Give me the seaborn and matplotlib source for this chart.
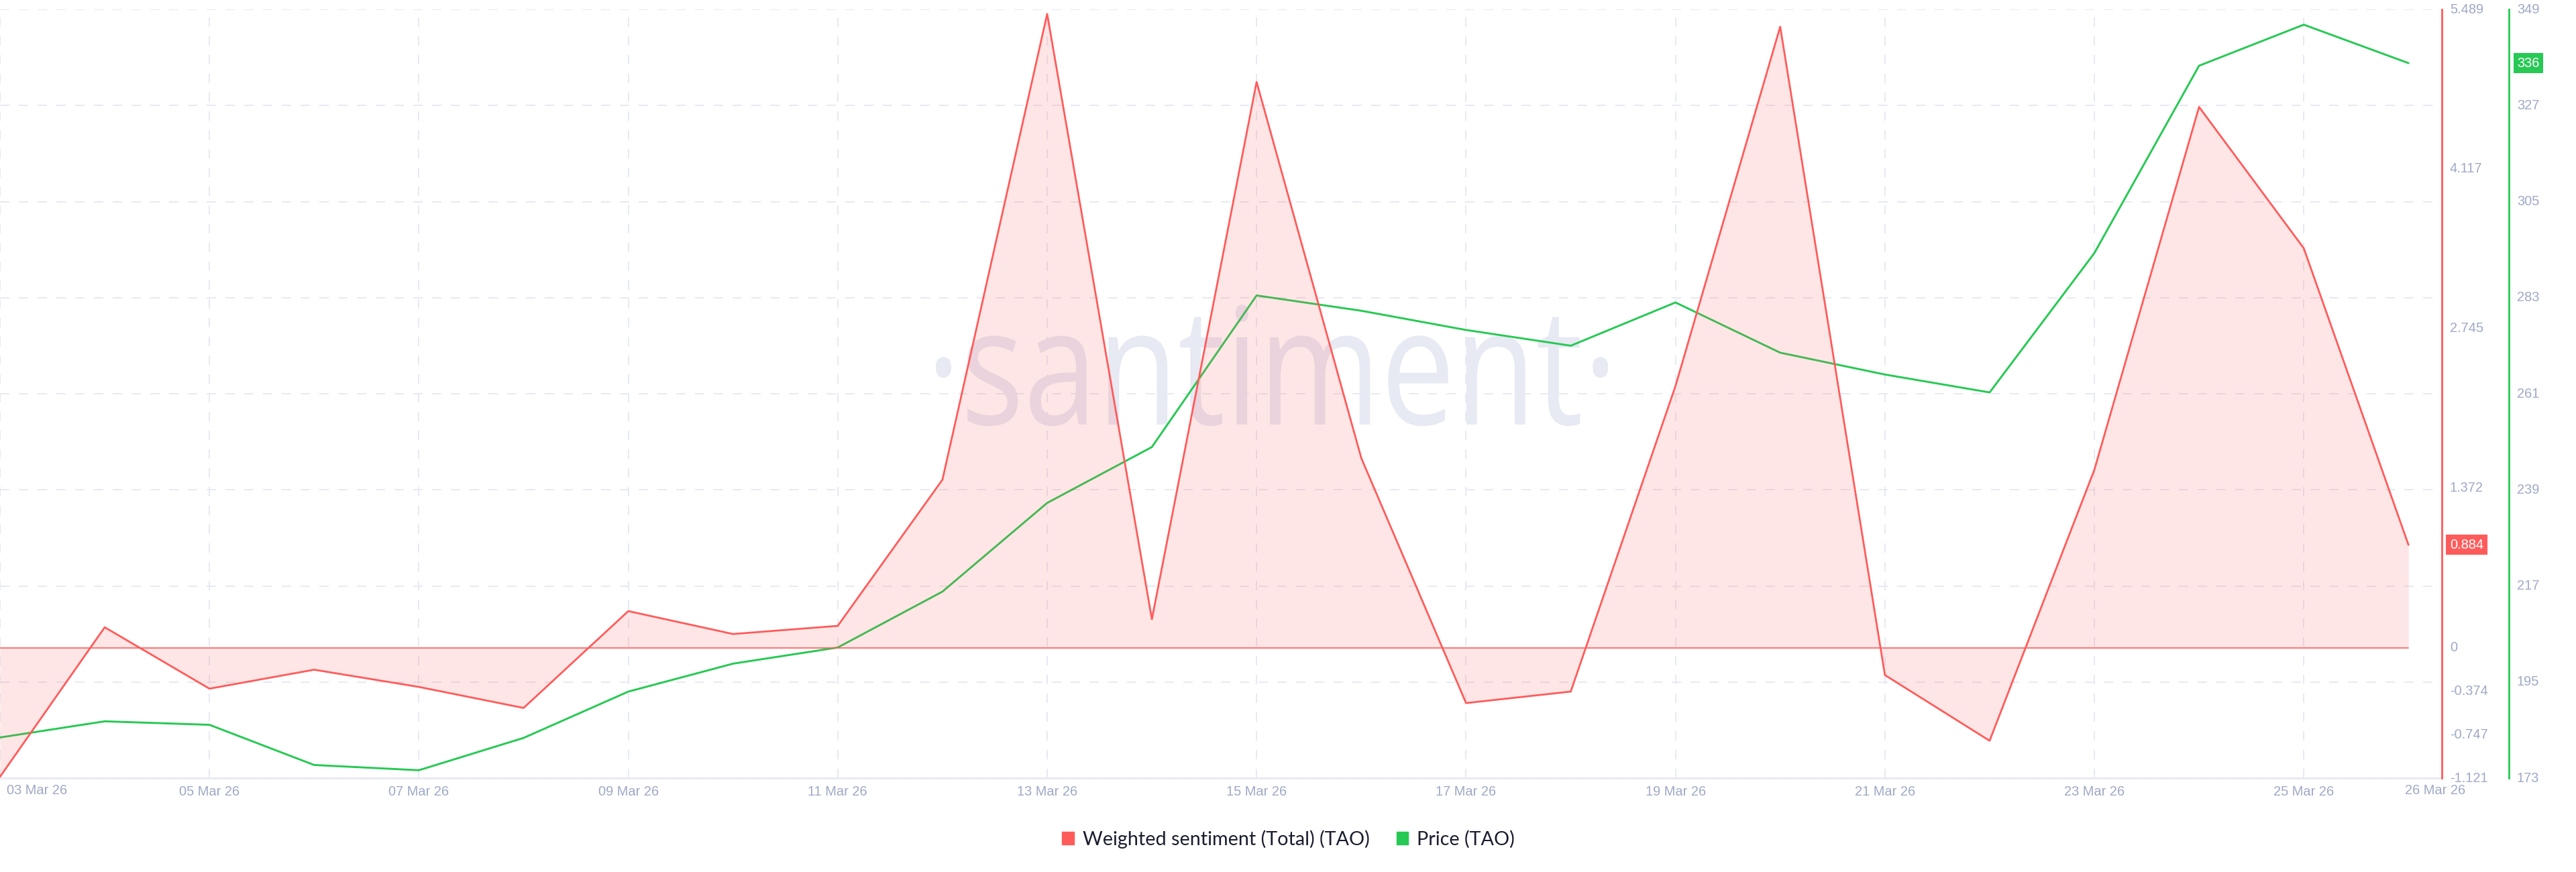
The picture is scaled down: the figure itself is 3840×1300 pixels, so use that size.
import matplotlib
matplotlib.use("Agg")
import matplotlib.dates as mdates
import matplotlib.pyplot as plt
from matplotlib.patches import Patch
from matplotlib.patheffects import AbstractPathEffect
from matplotlib.transforms import Affine2D, ScaledTranslation
import pandas as pd
import seaborn as sns

# values
dates = pd.date_range("2026-03-03", "2026-03-26", freq="D")
sentiment = [-1.11, 0.176, -0.352, -0.189, -0.337, -0.518, 0.315, 0.118, 0.188, 1.445, 5.45, 0.245,
             4.865, 1.63, -0.476, -0.377, 2.25, 5.34, -0.235, -0.80, 1.53, 4.65, 3.435, 0.884]
price = [182.3, 186.0, 185.2, 176.0, 174.8, 182.2, 192.8, 199.2, 202.9, 215.7, 236.0, 248.8,
         283.5, 280.0, 275.6, 272.0, 281.9, 270.4, 265.4, 261.3, 293.2, 336.1, 345.5, 336.7]
sentiment_ticks = [5.489, 4.117, 2.745, 1.372, 0, -0.374, -0.747, -1.121]
sentiment_labels = ["5.489", "4.117", "2.745", "1.372", "0", "-0.374", "-0.747", "-1.121"]
price_ticks = [349, 327, 305, 283, 261, 239, 217, 195, 173]
grid_dates = pd.date_range("2026-03-03", "2026-03-25", freq="2D")

RED = "#ff5b5b"
GREEN = "#26c953"
GRID = "#e7e9f3"
MUTED = "#9fa9c6"
W, H = 3840, 1300


class SqueezeX(AbstractPathEffect):
    # no narrow font installed, so squeeze the watermark text around its centre
    def __init__(self, center, factor):
        super().__init__()
        self.center = center
        self.factor = factor

    def draw_path(self, renderer, gc, tpath, affine, rgbFace=None):
        squeeze = Affine2D().translate(-self.center, 0).scale(self.factor, 1).translate(self.center, 0)
        renderer.draw_path(gc, tpath, affine + squeeze, rgbFace)


df = pd.DataFrame({"date": dates, "sentiment": sentiment, "price": price})

sns.set_theme(style="white")
plt.rcParams["font.family"] = ["Liberation Sans", "DejaVu Sans"]

fig = plt.figure(figsize=(W / 100, H / 100), dpi=100, facecolor="white")
ax = fig.add_axes([0, 1 - 1160 / H, 3640 / W, 1146 / H])
ax_s = ax.twinx()

# watermark sits under everything
ax.text(0.5209, 0.46, "·santiment·", transform=ax.transAxes, ha="center", va="baseline",
        family="Open Sans", fontsize=175, color="#e7e9f3", zorder=0,
        path_effects=[SqueezeX(1896, 0.81)])

sns.lineplot(data=df, x="date", y="price", ax=ax, color=GREEN, linewidth=2.1, zorder=3)
sns.lineplot(data=df, x="date", y="sentiment", ax=ax_s, color=RED, linewidth=2.0, zorder=3)
ax_s.fill_between(df["date"], df["sentiment"], 0, color=RED, alpha=0.15, linewidth=0, zorder=2)
ax_s.plot([dates[0], dates[-1]], [0, 0], color=RED, linewidth=1.2, zorder=2)

ax.set_xlim(dates[0], dates[0] + pd.Timedelta(days=3640 / 156.1))
ax.set_ylim(173, 349)
ax_s.set_ylim(-1.121, 5.489)

for a in (ax, ax_s):
    for side in ("left", "top", "bottom", "right"):
        a.spines[side].set_visible(False)
ax.spines["bottom"].set_visible(True)
ax.spines["bottom"].set_color(GRID)
ax.spines["bottom"].set_linewidth(2)
ax.spines["right"].set_visible(True)
ax.spines["right"].set_color(GREEN)
ax.spines["right"].set_linewidth(2.0)
ax.spines["right"].set_position(("outward", 72))
ax_s.spines["right"].set_visible(True)
ax_s.spines["right"].set_color(RED)
ax_s.spines["right"].set_linewidth(2.0)

dash = (0, (7, 7))
ax.set_xticks(grid_dates)
ax.set_xticklabels(["" if d == grid_dates[0] else d.strftime("%d %b %y") for d in grid_dates])
ax.set_yticks(price_ticks)
ax.grid(True, color=GRID, linewidth=1.44, linestyle=dash)
ax.set_axisbelow(True)
ax.yaxis.tick_right()
ax_s.set_yticks(sentiment_ticks)
ax_s.set_yticklabels(sentiment_labels)
ax_s.grid(False)
ax.set_xlabel("")
ax.set_ylabel("")
ax_s.set_xlabel("")
ax_s.set_ylabel("")

ax.tick_params(axis="x", length=0, pad=8, labelsize=14.4, labelcolor=MUTED)
ax.tick_params(axis="y", length=0, pad=8.6, labelsize=14.4, labelcolor=MUTED)
ax_s.tick_params(axis="y", length=0, pad=8.6, labelsize=14.4, labelcolor=MUTED)

# y labels sit a touch above their values
nudge = ScaledTranslation(0, 2 / 100, fig.dpi_scale_trans)
for lbl in ax.get_yticklabels() + ax_s.get_yticklabels():
    lbl.set_transform(lbl.get_transform() + nudge)

# end labels are pushed inwards / outwards from their dates
ax.annotate("03 Mar 26", xy=(mdates.date2num(dates[0]), 0), xycoords=ax.get_xaxis_transform(), xytext=(55, -19),
            textcoords="offset pixels", ha="center", va="center", fontsize=14.4, color=MUTED)
ax.annotate("26 Mar 26", xy=(mdates.date2num(dates[-1]), 0), xycoords=ax.get_xaxis_transform(), xytext=(40, -19),
            textcoords="offset pixels", ha="center", va="center", fontsize=14.4, color=MUTED)

# last value tags
ax_s.annotate("0.884", xy=(1, sentiment[-1]), xycoords=ax_s.get_yaxis_transform(), xytext=(37, 0),
              textcoords="offset pixels", ha="center", va="center", fontsize=14.4, color="white",
              bbox=dict(boxstyle="square,pad=0.28", fc=RED, ec="none"))
ax.annotate("336", xy=(1, price[-1]), xycoords=ax.get_yaxis_transform(), xytext=(129, 0),
            textcoords="offset pixels", ha="center", va="center", fontsize=14.4, color="white",
            bbox=dict(boxstyle="square,pad=0.28", fc=GREEN, ec="none"))

handles = [Patch(color=RED, label="Weighted sentiment (Total) (TAO)"), Patch(color=GREEN, label="Price (TAO)")]
fig.legend(handles=handles, loc="center", bbox_to_anchor=(1920.5 / W, 1 - 1251 / H), ncol=2, frameon=False,
           prop={"family": "Lato", "size": 20.7}, labelcolor="#1a1d2e", handlelength=0.62, handleheight=0.62,
           handletextpad=0.45, columnspacing=1.4)

fig.savefig("out.png", dpi=100)
